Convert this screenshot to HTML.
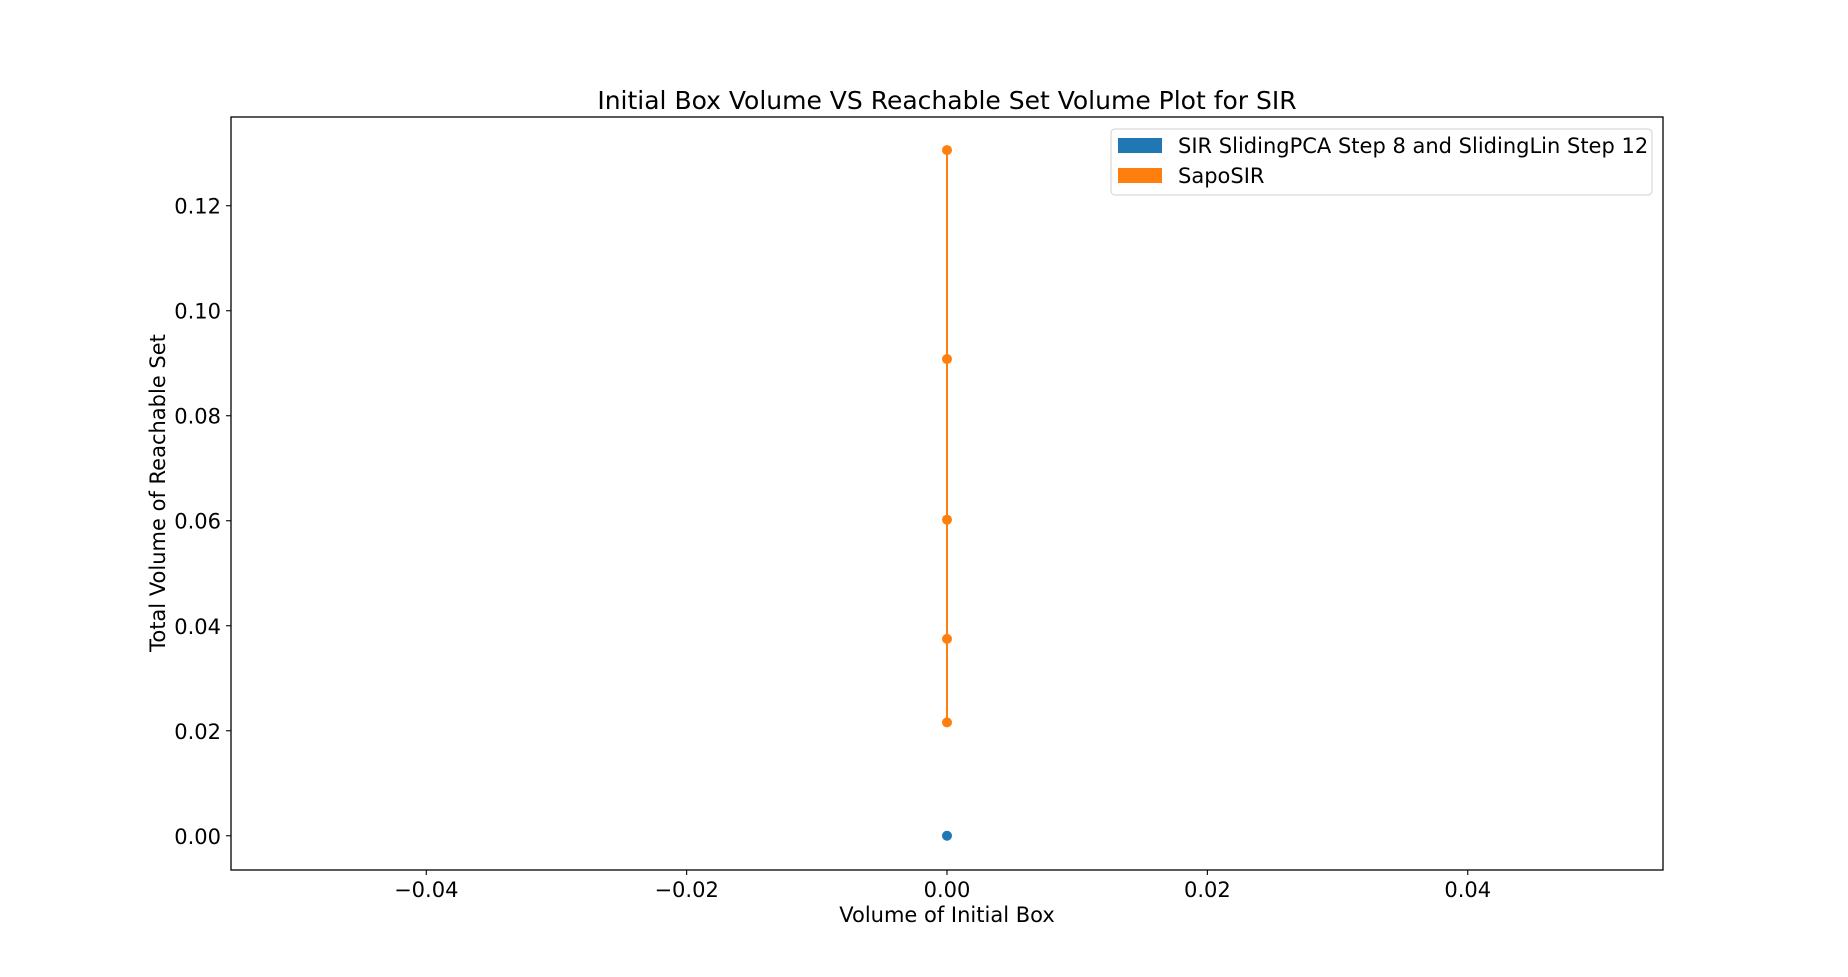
<!DOCTYPE html>
<html><head><meta charset="utf-8"><style>
html,body{margin:0;padding:0;background:#fff;}
svg{display:block;font-family:"DejaVu Sans","Liberation Sans",sans-serif;}
</style></head><body>
<svg id="chart" width="1848" height="977" xmlns="http://www.w3.org/2000/svg">
<rect width="1848" height="977" fill="#fff"/>
<text x="947" y="109" font-size="25" text-anchor="middle">Initial Box Volume VS Reachable Set Volume Plot for SIR</text>
<g id="plot"></g>
<rect x="231" y="117" width="1432" height="753" fill="none" stroke="#000" stroke-width="1.3"/>
<text x="947" y="922" font-size="21" text-anchor="middle">Volume of Initial Box</text>
<text transform="translate(165,493) rotate(-90)" font-size="21" text-anchor="middle">Total Volume of Reachable Set</text>
<g>
<rect x="1111" y="129" width="541" height="66" rx="4" fill="#fff" fill-opacity="0.8" stroke="#d0d0d0"/>
<rect x="1118" y="138" width="44" height="15" fill="#1f77b4"/>
<text x="1178" y="153" font-size="21">SIR SlidingPCA Step 8 and SlidingLin Step 12</text>
<rect x="1118" y="168" width="44" height="15" fill="#ff7f0e"/>
<text x="1178" y="183" font-size="21">SapoSIR</text>
</g>
</svg>
<script>
const xTicks = [-0.04, -0.02, 0.00, 0.02, 0.04];
const yTicks = [0.00, 0.02, 0.04, 0.06, 0.08, 0.10, 0.12];
const slidingX = [0];
const slidingY = [0.0];
const sapoX = [0, 0, 0, 0, 0];
const sapoY = [0.1306, 0.0908, 0.0602, 0.0375, 0.0216];

const NS = "http://www.w3.org/2000/svg";
const L = 231, R = 1663, T = 117, B = 870;
const xMin = -0.055, xMax = 0.055, yMin = -0.00652, yMax = 0.1369;
function xs(v){ return L + (v - xMin) / (xMax - xMin) * (R - L); }
function ys(v){ return B - (v - yMin) / (yMax - yMin) * (B - T); }
function mk(tag, attrs){ const e = document.createElementNS(NS, tag); for (const k in attrs) e.setAttribute(k, attrs[k]); return e; }
const g = document.getElementById('plot');
const fmt = v => (v < 0 ? '\u2212' : '') + Math.abs(v).toFixed(2);

xTicks.forEach(v => {
  const x = xs(v);
  const t = mk('line', {x1:x, x2:x, y1:B, y2:B+5, stroke:'#000', 'stroke-width':1.1});
  
  
  g.appendChild(t);
  const l = mk('text', {x:x, y:B+27, 'font-size':21, 'text-anchor':'middle'});
  l.textContent = fmt(v);
  
  
  g.appendChild(l);
});
yTicks.forEach(v => {
  const y = ys(v);
  const t = mk('line', {x1:L-5, x2:L, y1:y, y2:y, stroke:'#000', 'stroke-width':1.1});
  
  
  g.appendChild(t);
  const l = mk('text', {x:L-10, y:y+8, 'font-size':21, 'text-anchor':'end'});
  l.textContent = v.toFixed(2);
  
  
  g.appendChild(l);
});

function series(xsArr, ysArr, color, name){
  const pts = xsArr.map((v,i) => xs(v) + ',' + ys(ysArr[i])).join(' ');
  const pl = mk('polyline', {points:pts, fill:'none', stroke:color, 'stroke-width':2});
  
  
  g.appendChild(pl);
  xsArr.forEach((v,i) => {
    const c = mk('circle', {cx:xs(v), cy:ys(ysArr[i]), r:5, fill:color});
    
    
    g.appendChild(c);
  });
}
series(sapoX, sapoY, '#ff7f0e', 'sapo-sir');
series(slidingX, slidingY, '#1f77b4', 'sliding-sir');
</script>
</body></html>
